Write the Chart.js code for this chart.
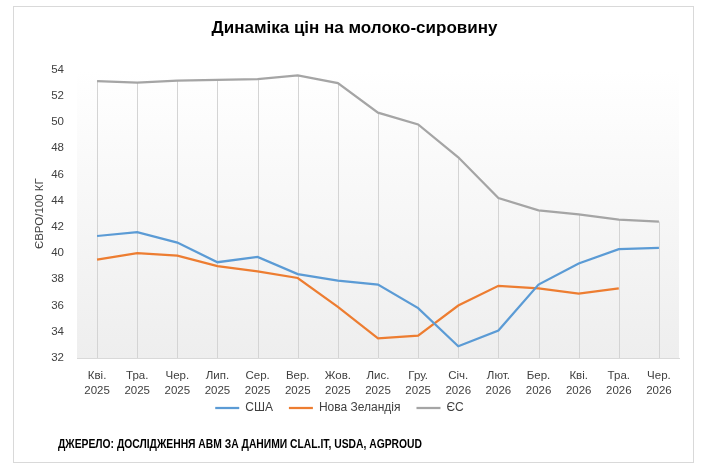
<!DOCTYPE html>
<html>
<head>
<meta charset="utf-8">
<script src="https://cdn.jsdelivr.net/npm/chart.js@4"></script>
<style>
  html, body { margin: 0; padding: 0; background: #fff; }
  #wrap { width: 709px; height: 468px; }
</style>
</head>
<body>
<div id="wrap"><canvas id="milk"></canvas></div>
<script>
const months = ['Кві.', 'Тра.', 'Чер.', 'Лип.', 'Сер.', 'Вер.', 'Жов.', 'Лис.', 'Гру.', 'Січ.', 'Лют.', 'Бер.', 'Кві.', 'Тра.', 'Чер.'];
const years = ['2025', '2025', '2025', '2025', '2025', '2025', '2025', '2025', '2025', '2026', '2026', '2026', '2026', '2026', '2026'];

const usa = [41.3, 41.6, 40.8, 39.3, 39.7, 38.4, 37.9, 37.6, 35.8, 32.9, 34.1, 37.6, 39.2, 40.3, 40.4];
const newZealand = [39.5, 40.0, 39.8, 39.0, 38.6, 38.1, 35.9, 33.5, 33.7, 36.0, 37.5, 37.3, 36.9, 37.3, null];
const eu = [53.1, 53.0, 53.15, 53.2, 53.25, 53.55, 52.95, 50.7, 49.8, 47.3, 44.2, 43.25, 42.95, 42.55, 42.4];

const yTicks = { min: 32, max: 54, step: 2 };

const titleText = 'Динаміка цін на молоко-сировину';
const yTitle = 'ЄВРО/100 КГ';
const sourceText = 'ДЖЕРЕЛО: ДОСЛІДЖЕННЯ АВМ ЗА ДАНИМИ CLAL.IT, USDA, AGPROUD';

const chartLabels = months.map((m, i) => [m, years[i]]);

// frame, plot background, drop lines from the EU series, source note
const decor = {
    id: 'decor',
    beforeDraw(chart) {
        const {ctx, chartArea: a} = chart;
        ctx.save();
        ctx.fillStyle = '#ffffff';
        ctx.fillRect(0, 0, chart.width, chart.height);
        ctx.strokeStyle = '#d9d9d9';
        ctx.lineWidth = 1;
        ctx.strokeRect(13.5, 6.5, 680, 456);
        const g = ctx.createLinearGradient(0, a.top, 0, a.bottom);
        g.addColorStop(0, '#ffffff');
        g.addColorStop(1, '#eeeeee');
        ctx.fillStyle = g;
        ctx.fillRect(a.left, a.top, a.right - a.left, a.bottom - a.top);
        ctx.restore();
    },
    afterLayout(chart) {
        // centre the title on the whole canvas, like the original
        chart.titleBlock.left = 0;
        chart.titleBlock.right = chart.width;
        // the two-line month labels hang below the (short) x box; don't clip them
        const x = chart.scales.x;
        x.bottom = x.top + 48;
    },
    beforeDatasetsDraw(chart) {
        const {ctx, chartArea: a} = chart;
        const meta = chart.getDatasetMeta(2);
        ctx.save();
        ctx.strokeStyle = '#d4d4d4';
        ctx.lineWidth = 1;
        ctx.beginPath();
        for (const pt of meta.data) {
            const x = Math.round(pt.x) + 0.5;
            ctx.moveTo(x, pt.y);
            ctx.lineTo(x, a.bottom);
        }
        ctx.stroke();
        ctx.restore();
    },
    afterDraw(chart) {
        const {ctx} = chart;
        ctx.save();
        ctx.fillStyle = '#000000';
        ctx.font = 'bold 12px "Liberation Sans Narrow", "Liberation Sans", sans-serif';
        ctx.textBaseline = 'middle';
        ctx.fillText(sourceText, 58, 445, 364);
        ctx.restore();
    }
};

const data = {
    labels: chartLabels,
    datasets: [{
        label: 'США',
        borderColor: '#5b9bd5',
        backgroundColor: '#5b9bd5',
        data: usa
    }, {
        label: 'Нова Зеландія',
        borderColor: '#ed7d31',
        backgroundColor: '#ed7d31',
        data: newZealand
    }, {
        label: 'ЄС',
        borderColor: '#a5a5a5',
        backgroundColor: '#a5a5a5',
        data: eu
    }]
};

const config = {
    type: 'line',
    data: data,
    plugins: [decor],
    options: {
        responsive: false,
        animation: false,
        devicePixelRatio: 1,
        layout: { padding: { left: 0, right: 30, top: 0, bottom: 44 } },
        elements: {
            line: { borderWidth: 2.25, tension: 0 },
            // points are hidden; the width is only used by the legend line
            point: { radius: 0, hoverRadius: 0, borderWidth: 2.25 }
        },
        plugins: {
            title: {
                display: true,
                text: titleText,
                color: '#000000',
                font: { family: '"Liberation Sans", Arial, sans-serif', size: 17, weight: 'bold', lineHeight: 1.2 },
                padding: { top: 18, bottom: 31 }
            },
            legend: {
                position: 'bottom',
                labels: {
                    usePointStyle: true,
                    pointStyle: 'line',
                    pointStyleWidth: 24,
                    padding: 16,
                    color: '#404040',
                    font: { family: '"Liberation Sans", Arial, sans-serif', size: 12 }
                }
            },
            tooltip: { enabled: false }
        },
        scales: {
            x: {
                offset: true,
                grid: { display: false, drawTicks: false },
                border: { display: true, color: '#d9d9d9', width: 1 },
                afterFit(scale) { scale.height = 28; },
                ticks: {
                    padding: 10,
                    maxRotation: 0,
                    autoSkip: false,
                    color: '#404040',
                    font: { family: '"Liberation Sans", Arial, sans-serif', size: 11.5, lineHeight: 1.35 }
                }
            },
            y: {
                min: yTicks.min,
                max: yTicks.max,
                grid: { display: false, drawTicks: false },
                border: { display: false },
                afterFit(scale) { scale.width = 77; },
                title: {
                    display: true,
                    text: yTitle,
                    color: '#404040',
                    font: { family: '"Liberation Sans", Arial, sans-serif', size: 11.5 },
                    padding: { top: 33, bottom: 0 }
                },
                ticks: {
                    stepSize: yTicks.step,
                    padding: 13,
                    color: '#404040',
                    font: { family: '"Liberation Sans", Arial, sans-serif', size: 11.5 }
                }
            }
        }
    }
};

const canvas = document.getElementById('milk');
canvas.width = 709;
canvas.height = 468;
const chartMilk = new Chart(canvas, config);
</script>
</body>
</html>
